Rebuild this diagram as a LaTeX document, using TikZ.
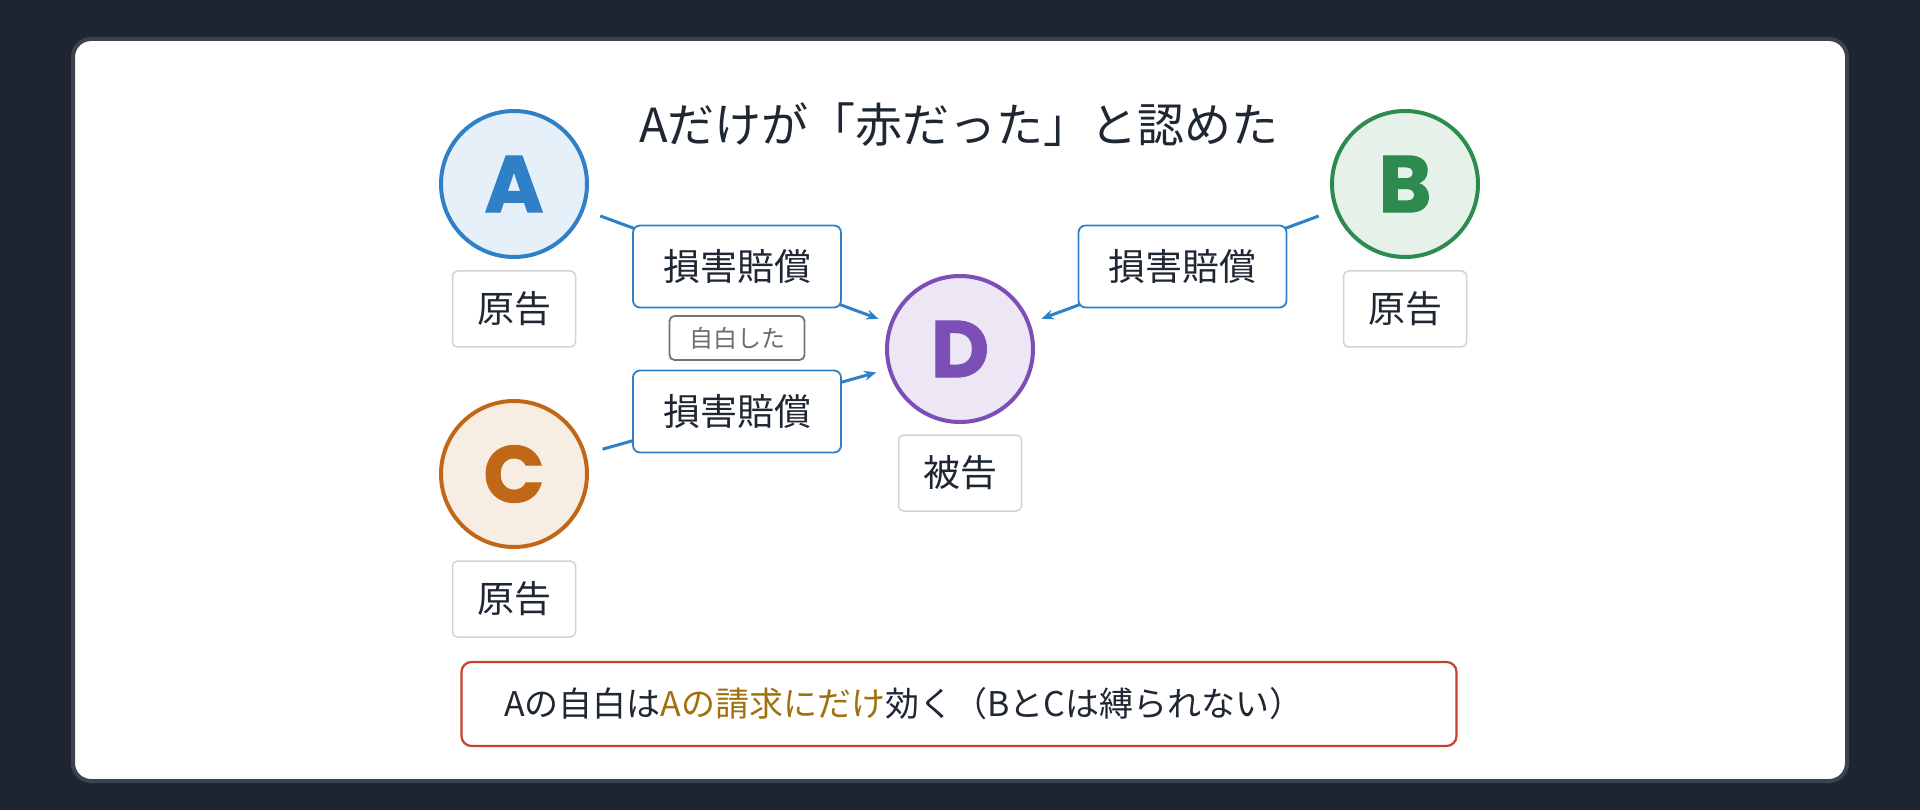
\documentclass[tikz,border=0pt]{standalone}
\usepackage{fontspec}
\setmainfont{Noto Sans CJK JP}
\newfontfamily\letterfont{Poppins}[FakeBold=1.5]
\usetikzlibrary{arrows.meta}
\definecolor{bg}{HTML}{1E2530}
\definecolor{cardb}{HTML}{3A4350}
\definecolor{ink}{HTML}{1F2733}
\definecolor{blu}{HTML}{3080C8}
\definecolor{grn}{HTML}{2E8B50}
\definecolor{org}{HTML}{C06818}
\definecolor{pur}{HTML}{7B4FB5}
\definecolor{gold}{HTML}{A0700E}
\definecolor{redb}{HTML}{C8402F}
\begin{document}
\begin{tikzpicture}[x=1pt,y=-1pt,
  party/.style={circle,line width=4pt,minimum size=146pt,inner sep=0pt,font=\fontsize{80}{80}\selectfont\letterfont\bfseries},
  role/.style={draw=gray!35,line width=1.5pt,rounded corners=5pt,fill=white,minimum width=123pt,minimum height=76pt,font=\fontsize{37}{37}\selectfont,text=ink},
  claim/.style={draw=blu,line width=1.8pt,rounded corners=7pt,fill=white,minimum width=208pt,minimum height=82pt,font=\fontsize{37}{37}\selectfont,text=ink},
  conn/.style={draw=blu,line width=3pt,-{Stealth[length=12pt,width=10pt]},shorten <=17pt,shorten >=12pt}]
\useasboundingbox (0,0) rectangle (1920,810);
\fill[bg] (0,0) rectangle (1920,810);
\draw[cardb,line width=4pt,fill=white,rounded corners=18pt] (73,39) rectangle (1847,781);
\node[text=ink,font=\fontsize{47}{47}\selectfont] (title) at (959,125) {Aだけが「赤だった」と認めた};
\node[party,draw=blu,fill=blu!12,text=blu] (A) at (514,184) {A};
\node[party,draw=grn,fill=grn!12,text=grn] (B) at (1405,184) {B};
\node[party,draw=org,fill=org!12,text=org] (C) at (514,474) {C};
\node[party,draw=pur,fill=pur!14,text=pur] (D) at (960,349) {D};
\node[role] (ra) at (514,309) {原告};
\node[role] (rb) at (1405,309) {原告};
\node[role] (rc) at (514,599) {原告};
\node[role] (rd) at (960,473) {被告};
\draw[conn] (A) -- node[claim] (c1) {損害賠償} (D);
\draw[conn] (C) -- node[claim] (c2) {損害賠償} (D);
\draw[conn] (B) -- node[claim] (c3) {損害賠償} (D);
\node[draw=gray!90!black,line width=1.8pt,rounded corners=5pt,fill=white,minimum width=135pt,minimum height=44pt,text=gray!85!black,font=\fontsize{24}{24}\selectfont] (conf) at (737,338) {自白した};
\node[draw=redb,line width=2.2pt,rounded corners=10pt,fill=white,minimum width=995pt,minimum height=84pt,text width=910pt,align=left,text=ink,font=\fontsize{34}{34}\selectfont] (note) at (959,704) {Aの自白は\textcolor{gold}{Aの請求にだけ}効く（BとCは縛られない）};
\end{tikzpicture}
\end{document}
